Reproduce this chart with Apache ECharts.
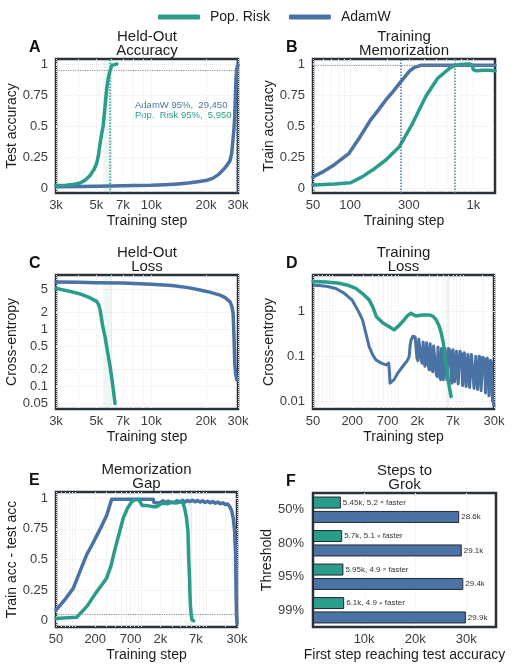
<!DOCTYPE html>
<html>
<head>
<meta charset="utf-8">
<script src="https://cdn.jsdelivr.net/npm/echarts@6/dist/echarts.min.js"></script>
<style>html,body{margin:0;padding:0;background:#fff}#main{width:516px;height:669px}</style>
</head>
<body>
<div id="main"></div>
<script>
var TEAL = '#2a9d8a', BLUE = '#4b72a4', GREY = '#8a8f98', INK = '#1c1c1c', TICK = '#3d3d3d';
var FONT = 'Liberation Sans, Arial, sans-serif';

// A: held-out accuracy
var aPopStep = [3000, 3400, 3800, 4065, 4350, 4610, 4850, 5020, 5140, 5240, 5350, 5450, 5580, 5700, 5820, 5950, 6100, 6300, 6480];
var aPopAcc = [0.02, 0.022, 0.03, 0.04, 0.065, 0.10, 0.15, 0.20, 0.27, 0.36, 0.44, 0.50, 0.66, 0.80, 0.89, 0.95, 0.99, 0.995, 1.0];
var aAdamStep = [3000, 4000, 5000, 6000, 7000, 8000, 10000, 12000, 14000, 16000, 18000, 20000, 21900, 23500, 24800, 26000, 27100, 27700, 28200, 28600, 28900, 29100, 29250, 29400, 29450, 29700, 30000];
var aAdamAcc = [0.01, 0.012, 0.015, 0.017, 0.018, 0.02, 0.022, 0.027, 0.033, 0.04, 0.05, 0.06, 0.08, 0.11, 0.145, 0.18, 0.22, 0.28, 0.40, 0.50, 0.65, 0.80, 0.88, 0.93, 0.95, 0.98, 0.99];
var aPop95 = 5950, aAdam95 = 29450;

// B: training memorization
var bAdamStep = [50, 60, 75, 98, 120, 147, 170, 195, 220, 250, 275, 302, 330, 353, 380, 450, 600, 800, 1000, 1200, 1500];
var bAdamAcc = [0.09, 0.13, 0.19, 0.28, 0.41, 0.55, 0.63, 0.71, 0.77, 0.84, 0.89, 0.94, 0.97, 0.98, 0.99, 0.99, 0.99, 0.99, 0.99, 0.99, 0.99];
var bPopStep = [50, 75, 101, 125, 152, 195, 250, 321, 412, 514, 641, 700, 770, 930, 980, 1000, 1060, 1200, 1350, 1500];
var bPopAcc = [0.024, 0.033, 0.043, 0.09, 0.145, 0.226, 0.33, 0.52, 0.74, 0.885, 0.965, 0.985, 0.995, 1.0, 0.99, 0.955, 0.945, 0.95, 0.95, 0.945];
var bAdamMem = 255, bPopMem = 700;

// C: held-out loss
var cAdamStep = [3000, 4000, 5000, 7000, 10000, 13000, 16000, 18500, 21000, 23900, 25500, 27100, 27800, 28200, 28500, 28800, 29100, 29500];
var cAdamLoss = [6.8, 6.7, 6.6, 6.5, 6.2, 5.9, 5.4, 4.9, 4.5, 4.0, 3.6, 3.05, 2.5, 1.9, 0.8, 0.25, 0.17, 0.13];
var cPopStep = [3000, 3500, 4065, 4600, 5020, 5150, 5240, 5400, 5580, 5760, 5950, 6140, 6330];
var cPopLoss = [5.25, 4.7, 4.2, 3.6, 3.1, 2.7, 2.2, 1.2, 0.74, 0.4, 0.22, 0.11, 0.05];

// D: training loss (AdamW gets noisy after ~1.8k steps)
var dAdamStep = [50, 80, 112, 150, 200, 250, 288, 320, 364, 410, 462, 560, 660, 726, 745, 760, 800, 880, 1000, 1190, 1400, 1500, 1550, 1600, 1700, 1800,
  1850, 1910, 1970, 2030, 2100, 2160, 2230, 2300, 2370, 2450,
  2520, 2600, 2690, 2770, 2860, 2950, 3040, 3140, 3240, 3340,
  3440, 3550, 3660, 3780, 3900, 4020, 4150, 4280, 4410, 4550,
  4700, 4840, 5000, 5150, 5320, 5480, 5660, 5830, 6020, 6210,
  6400, 6600, 6810, 7030, 7250, 7480, 7710, 7960, 8210, 8470,
  8730, 9010, 9290, 9590, 9890, 10200, 10520, 10860, 11200, 11550,
  11920, 12290, 12680, 13080, 13500, 13920, 14360, 14820, 15280, 15770,
  16260, 16780, 17310, 17850, 18420, 19000, 19600, 20220, 20860, 21520,
  22200, 22900, 23620, 24370, 25140, 25940, 26760, 27600, 28480, 29380,
  30000];
var dAdamLoss = [3.96, 3.7, 3.3, 2.6, 1.8, 1.0, 0.65, 0.35, 0.165, 0.11, 0.083, 0.07, 0.064, 0.07, 0.045, 0.025, 0.024, 0.03, 0.042, 0.059, 0.08, 0.1, 0.18, 0.23, 0.28, 0.26,
  0.27, 0.25, 0.09, 0.08, 0.24, 0.22, 0.23, 0.08, 0.07, 0.21,
  0.20, 0.06, 0.07, 0.20, 0.19, 0.06, 0.05, 0.19, 0.18, 0.05,
  0.045, 0.17, 0.16, 0.17, 0.04, 0.035, 0.16, 0.15, 0.035, 0.03,
  0.15, 0.14, 0.03, 0.032, 0.15, 0.14, 0.03, 0.028, 0.15, 0.14,
  0.13, 0.028, 0.025, 0.14, 0.13, 0.027, 0.025, 0.13, 0.12, 0.024,
  0.022, 0.13, 0.12, 0.11, 0.022, 0.02, 0.12, 0.11, 0.021, 0.02,
  0.11, 0.10, 0.02, 0.019, 0.11, 0.10, 0.10, 0.019, 0.018, 0.10,
  0.095, 0.018, 0.017, 0.10, 0.09, 0.017, 0.016, 0.095, 0.09, 0.085,
  0.015, 0.014, 0.09, 0.08, 0.013, 0.012, 0.08, 0.07, 0.01, 0.009,
  0.0075];
var dPopStep = [50, 80, 126, 170, 227, 290, 364, 420, 470, 600, 750, 880, 920, 1000, 1190, 1400, 1600, 1750, 1900, 2400, 3070, 3500, 3900, 4300, 4650, 5000, 5230, 5550, 5850, 6200, 6600];
var dPopLoss = [4.7, 4.6, 4.3, 3.9, 3.3, 2.5, 1.83, 1.2, 0.77, 0.55, 0.45, 0.39, 0.42, 0.46, 0.6, 0.8, 0.92, 0.85, 0.8, 0.84, 0.84, 0.78, 0.65, 0.48, 0.33, 0.2, 0.117, 0.06, 0.035, 0.02, 0.0125];

// E: memorization gap
var eAdamStep = [50, 70, 92, 120, 148, 175, 200, 250, 300, 357, 450, 600, 800, 1000, 1300, 1550, 1600, 1700, 1800, 1900, 2000, 2200, 2400, 2600, 2800, 3000,
  3300, 3600, 4000, 4400, 4800, 5200, 5700, 6200, 6800, 7400, 8100, 8900, 9700, 10600, 11600, 12700, 13900, 15200, 16600, 18100, 19800, 21600,
  23300, 24800, 26200, 27500, 28500, 29100, 29500, 29900, 30000];
var eAdamGap = [0.087, 0.18, 0.265, 0.42, 0.54, 0.61, 0.67, 0.77, 0.86, 0.99, 0.99, 0.99, 0.99, 0.99, 0.99, 0.99, 0.965, 0.975, 0.96, 0.975, 0.965, 0.978, 0.962, 0.975, 0.968, 0.98,
  0.965, 0.978, 0.97, 0.982, 0.968, 0.98, 0.972, 0.983, 0.97, 0.98, 0.968, 0.978, 0.965, 0.975, 0.962, 0.972, 0.958, 0.968, 0.955, 0.962, 0.948, 0.952,
  0.93, 0.9, 0.84, 0.74, 0.55, 0.2, 0.04, 0.0, -0.02];
var ePopStep = [50, 75, 104, 150, 200, 250, 300, 350, 400, 470, 540, 630, 725, 800, 915, 980, 1050, 1200, 1400, 1600, 1750, 2000, 2200, 2600, 3000, 3500, 4000, 4400, 4700, 5000, 5300, 5450, 5600, 5700, 5800, 5950, 6100, 6300, 6500];
var ePopGap = [0.02, 0.025, 0.03, 0.12, 0.22, 0.29, 0.35, 0.45, 0.58, 0.72, 0.84, 0.92, 0.97, 0.985, 0.99, 0.97, 0.94, 0.94, 0.935, 0.93, 0.93, 0.95, 0.96, 0.955, 0.965, 0.96, 0.97, 0.965, 0.92, 0.85, 0.73, 0.5, 0.35, 0.2, 0.12, 0.05, 0.01, 0.0, 0.0];
var eFloor = 0.05;

// F: steps to grok
var fThresh = ['50%', '80%', '95%', '99%'];
var fPop = [5450, 5700, 5950, 6100];
var fAdam = [28600, 29100, 29400, 29900];
var fSpeed = [5.2, 5.1, 4.9, 4.9];
var bandLo = 5450, bandHi = 6100;

// tick labels and grid positions
var ticks3k = [3000, 5000, 7000, 10000, 20000, 30000];
var grid3k = [3000, 4000, 5000, 6000, 7000, 8000, 9000, 10000, 20000, 30000];
var ticksB = [50, 100, 300, 1000];
var gridB = [50, 60, 70, 80, 90, 100, 200, 300, 400, 500, 600, 700, 800, 900, 1000];
var ticks50 = [50, 200, 700, 2000, 7000, 30000];
var grid50 = [50, 60, 70, 80, 90, 100, 200, 300, 400, 500, 600, 700, 800, 900, 1000, 2000, 3000, 4000, 5000, 6000, 7000, 8000, 9000, 10000, 20000, 30000];
var accTicks = [0, 0.25, 0.5, 0.75, 1];
var lossTicksC = [0.05, 0.1, 0.2, 0.5, 1, 2, 5];
var lossTicksD = [0.01, 0.1, 1];
var stepTicksF = [10000, 20000, 30000];

function L(v) { return Math.log10(v); }
function pairs(xs, ys, logY) { return xs.map(function (x, i) { return [L(x), logY ? L(ys[i]) : ys[i]]; }); }
function kfmt(v) { v = Math.round(v); return v >= 1000 ? (v / 1000) + 'k' : String(v); }

var tickFont = { fontSize: 13, color: TICK, fontFamily: FONT };
var nameFont = { fontSize: 14, color: INK, fontFamily: FONT };
var gridLine = { show: true, lineStyle: { color: '#ececec', type: 'dotted', width: 1 } };

function xLog(gi, lo, hi, ticks, grid) {
  return {
    gridIndex: gi, type: 'value', min: L(lo), max: L(hi),
    name: 'Training step', nameLocation: 'middle', nameGap: 21, nameTextStyle: nameFont,
    axisLine: { show: false },
    axisTick: { show: false, customValues: grid.map(L) },
    axisLabel: Object.assign({ customValues: ticks.map(L), margin: 6, formatter: function (v) { return kfmt(Math.pow(10, v)); } }, tickFont),
    splitLine: gridLine
  };
}
function yLin(gi, lo, hi, name) {
  return {
    gridIndex: gi, type: 'value', min: lo, max: hi,
    name: name, nameLocation: 'middle', nameGap: 37, nameTextStyle: nameFont,
    axisLine: { show: false },
    axisTick: { show: false, customValues: accTicks },
    axisLabel: Object.assign({ customValues: accTicks, margin: 8 }, tickFont),
    splitLine: gridLine
  };
}
function yLog(gi, lo, hi, ticks, name) {
  return {
    gridIndex: gi, type: 'value', min: L(lo), max: L(hi),
    name: name, nameLocation: 'middle', nameGap: 37, nameTextStyle: nameFont,
    axisLine: { show: false },
    axisTick: { show: false, customValues: ticks.map(L) },
    axisLabel: Object.assign({ customValues: ticks.map(L), margin: 8, formatter: function (v) { return String(Number(Math.pow(10, v).toPrecision(2))); } }, tickFont),
    splitLine: gridLine
  };
}
function line(name, color, idx, data, extra) {
  return Object.assign({
    name: name, type: 'line', xAxisIndex: idx, yAxisIndex: idx, data: data,
    showSymbol: false, symbol: 'none', z: name === 'Pop. Risk' ? 3 : 2,
    lineStyle: { color: color, width: 3.5, cap: 'round', join: 'round' },
    itemStyle: { color: color }
  }, extra || {});
}
function vline(x, color) {
  return { xAxis: L(x), lineStyle: { color: color, type: 'dotted', width: 1.5 }, label: { show: false } };
}
function hline(y) {
  return { yAxis: y, lineStyle: { color: GREY, type: 'dotted', width: 1.2 }, label: { show: false } };
}
function hlabel(x0, x1, y, txt) {
  return [{ coord: [L(x0), y], lineStyle: { opacity: 0 }, label: { show: true, position: 'insideEndTop', formatter: txt, fontSize: 8, color: '#7d828b', distance: 1, fontFamily: FONT } },
          { coord: [L(x1), y] }];
}
function mark(items) { return { symbol: 'none', silent: true, animation: false, data: items }; }
var band = { silent: true, itemStyle: { color: 'rgba(42,157,138,0.08)' }, data: [[{ xAxis: L(bandLo) }, { xAxis: L(bandHi) }]] };

var boxes = [
  { left: 56, top: 59, width: 182, height: 134 },
  { left: 313, top: 59, width: 182, height: 134 },
  { left: 56, top: 275, width: 182, height: 134 },
  { left: 313, top: 275, width: 181, height: 134 },
  { left: 56, top: 492, width: 181, height: 135 },
  { left: 313, top: 493, width: 183, height: 134 }
];
var titles = ['Held-Out\nAccuracy', 'Training\nMemorization', 'Held-Out\nLoss', 'Training\nLoss', 'Memorization\nGap', 'Steps to\nGrok'];
var letters = ['A', 'B', 'C', 'D', 'E', 'F'];

var titleList = [];
boxes.forEach(function (b, i) {
  titleList.push({ text: titles[i], left: b.left + b.width / 2, top: b.top - 29, textAlign: 'center', padding: 0,
    textStyle: { fontSize: 15, fontWeight: 'normal', color: INK, lineHeight: 14, fontFamily: FONT } });
  titleList.push({ text: letters[i], left: b.left - 27, top: b.top - 19, padding: 0,
    textStyle: { fontSize: 16, fontWeight: 'bold', color: '#111', fontFamily: FONT } });
});

var chart = echarts.init(document.getElementById('main'));
var option = {
  animation: false,
  backgroundColor: '#fff',
  title: titleList,
  legend: {
    data: ['Pop. Risk', 'AdamW'], top: 5, left: 153, icon: 'roundRect', itemWidth: 42, itemHeight: 5, itemGap: 19,
    textStyle: { fontSize: 14, color: INK, fontFamily: FONT, padding: [0, 0, 0, 5] }
  },
  grid: boxes.map(function (b) {
    return Object.assign({ show: true, borderColor: '#2b313b', borderWidth: 2.5, backgroundColor: '#fff', containLabel: false }, b);
  }),
  graphic: [
    { type: 'text', left: 135, top: 100, style: { text: 'AdamW 95%,  ' + aAdam95.toLocaleString('en-US'), fill: BLUE, font: '9.5px ' + FONT } },
    { type: 'text', left: 135, top: 110, style: { text: 'Pop.  Risk 95%,  ' + aPop95.toLocaleString('en-US'), fill: TEAL, font: '9.5px ' + FONT } }
  ],
  xAxis: [
    xLog(0, 3000, 30000, ticks3k, grid3k),
    xLog(1, 50, 1500, ticksB, gridB),
    xLog(2, 3000, 30000, ticks3k, grid3k),
    xLog(3, 50, 30000, ticks50, grid50),
    xLog(4, 50, 30000, ticks50, grid50),
    {
      gridIndex: 5, type: 'value', min: 0, max: 35800,
      name: 'First step reaching test accuracy', nameLocation: 'middle', nameGap: 21, nameTextStyle: nameFont,
      axisLine: { show: false },
      axisTick: { show: false, customValues: stepTicksF },
      axisLabel: Object.assign({ customValues: stepTicksF, margin: 6, formatter: kfmt }, tickFont),
      splitLine: gridLine
    }
  ],
  yAxis: [
    yLin(0, -0.04, 1.04, 'Test accuracy'),
    yLin(1, -0.04, 1.04, 'Train accuracy'),
    yLog(2, 0.04, 9, lossTicksC, 'Cross-entropy'),
    yLog(3, 0.0066, 6.6, lossTicksD, 'Cross-entropy'),
    yLin(4, -0.05, 1.05, 'Train acc - test acc'),
    {
      gridIndex: 5, type: 'category', data: fThresh, inverse: true,
      name: 'Threshold', nameLocation: 'middle', nameGap: 37, nameTextStyle: nameFont,
      axisLine: { show: false }, axisTick: { show: false },
      axisLabel: Object.assign({ margin: 9 }, tickFont)
    }
  ],
  series: [
    line('AdamW', BLUE, 0, pairs(aAdamStep, aAdamAcc), {
      markLine: mark([vline(aAdam95, BLUE), hline(0.95), hlabel(3000, aAdam95, 0.95, '95%')])
    }),
    line('Pop. Risk', TEAL, 0, pairs(aPopStep, aPopAcc), { markLine: mark([vline(aPop95, TEAL)]), markArea: band }),
    line('AdamW', BLUE, 1, pairs(bAdamStep, bAdamAcc), {
      markLine: mark([vline(bAdamMem, BLUE), hline(0.99), hlabel(50, bAdamMem, 0.99, '99%')])
    }),
    line('Pop. Risk', TEAL, 1, pairs(bPopStep, bPopAcc), { markLine: mark([vline(bPopMem, TEAL)]) }),
    line('AdamW', BLUE, 2, pairs(cAdamStep, cAdamLoss, true)),
    line('Pop. Risk', TEAL, 2, pairs(cPopStep, cPopLoss, true), { markArea: band }),
    line('AdamW', BLUE, 3, pairs(dAdamStep, dAdamLoss, true), { lineStyle: { color: BLUE, width: 3, join: 'round' } }),
    line('Pop. Risk', TEAL, 3, pairs(dPopStep, dPopLoss, true), { markArea: band }),
    line('AdamW', BLUE, 4, pairs(eAdamStep, eAdamGap)),
    line('Pop. Risk', TEAL, 4, pairs(ePopStep, ePopGap), { markLine: mark([hline(eFloor)]), markArea: band }),
    {
      name: 'Pop. Risk', type: 'bar', xAxisIndex: 5, yAxisIndex: 5, data: fPop, barWidth: 12, barGap: '20%',
      itemStyle: { color: TEAL, borderColor: '#23272e', borderWidth: 1 },
      label: {
        show: true, position: 'right', distance: 2, fontSize: 8, color: '#333', fontFamily: FONT,
        formatter: function (p) { return kfmt(fPop[p.dataIndex]) + ', ' + fSpeed[p.dataIndex] + ' {x|×} faster'; },
        rich: { x: { fontSize: 6, color: '#333' } }
      }
    },
    {
      name: 'AdamW', type: 'bar', xAxisIndex: 5, yAxisIndex: 5, data: fAdam, barWidth: 12, barGap: '20%',
      itemStyle: { color: BLUE, borderColor: '#23272e', borderWidth: 1 },
      label: {
        show: true, position: 'right', distance: 2, fontSize: 8, color: '#333', fontFamily: FONT,
        formatter: function (p) { return kfmt(fAdam[p.dataIndex]); }
      }
    }
  ]
};
chart.setOption(option);
</script>
</body>
</html>
